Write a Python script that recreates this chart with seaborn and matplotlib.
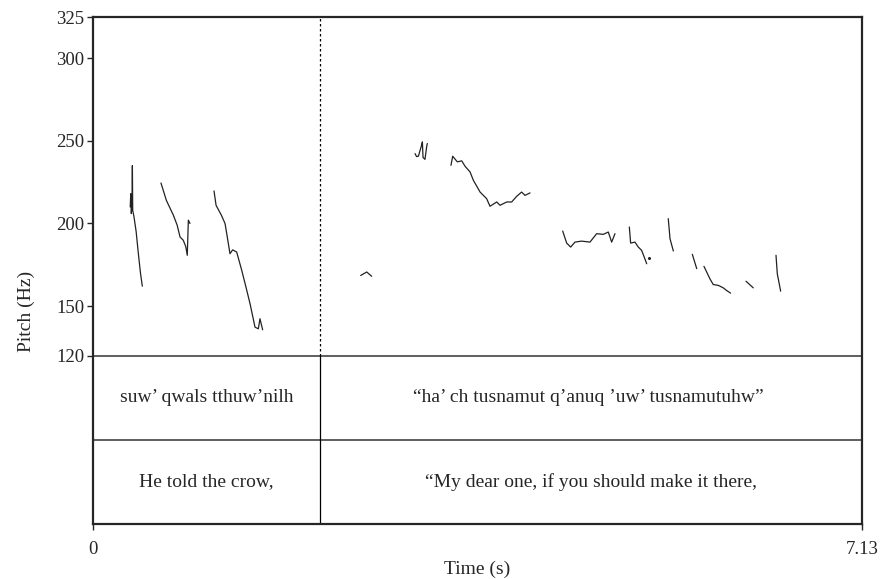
import numpy as np
import pandas as pd
import matplotlib
matplotlib.use("Agg")
import matplotlib.pyplot as plt
import seaborn as sns

sns.set_style("ticks")
plt.rcParams['font.family'] = ['Liberation Serif', 'DejaVu Serif']

# pitch track segments: (time s, pitch Hz)
seg1_t = [0.345, 0.350, 0.355, 0.362, 0.365, 0.368, 0.380, 0.400, 0.420, 0.440, 0.457]
seg1_f = [210, 218, 206, 212, 235, 208, 204, 195, 182, 170, 162]
seg2_t = [0.630, 0.680, 0.745, 0.780, 0.807, 0.837, 0.860, 0.874, 0.884, 0.899]
seg2_f = [224.5, 214, 205, 199, 191.8, 189.8, 186, 180.7, 202, 200]
seg3_t = [1.122, 1.141, 1.190, 1.224, 1.240, 1.270, 1.295, 1.332, 1.379, 1.420, 1.456, 1.502, 1.533, 1.548, 1.573]
seg3_f = [219.7, 211, 205, 200, 193.8, 181.7, 184, 182.7, 171.6, 161, 151.4, 137.2, 136.2, 142.3, 135.6]
seg4_t = [2.482, 2.538, 2.584]
seg4_f = [168.5, 170.6, 168]
seg5_t = [2.986, 3.000, 3.017, 3.045, 3.054, 3.060, 3.078, 3.095, 3.100]
seg5_f = [242.3, 240.5, 240.7, 247, 249.4, 240, 238.8, 247, 248.4]
seg6_t = [3.319, 3.335, 3.378, 3.419, 3.450, 3.496, 3.527, 3.589, 3.650, 3.681, 3.743, 3.774,
          3.836, 3.882, 3.928, 3.974, 4.006, 4.052]
seg6_f = [235.2, 240.7, 237.3, 237.9, 234.6, 231.2, 226.1, 219, 215, 210.4, 213, 211,
          213, 213, 216.4, 219, 217, 218.5]
seg7_t = [4.355, 4.392, 4.429, 4.469, 4.531, 4.608, 4.670, 4.732, 4.778, 4.809, 4.840]
seg7_f = [195.4, 188.1, 185.7, 188.7, 189.3, 188.7, 193.8, 193.4, 194.8, 188.7, 193.8]
seg8_t = [4.973, 4.985, 5.025, 5.056, 5.087, 5.109, 5.134]
seg8_f = [197.8, 188.1, 188.7, 185.7, 183.7, 180, 175.6]
seg9_t = [5.334, 5.350, 5.381]
seg9_f = [202.9, 190.8, 183.3]
seg10_t = [5.557, 5.598]
seg10_f = [181.3, 172.6]
seg11_t = [5.665, 5.690, 5.720, 5.751, 5.798, 5.844, 5.875, 5.912]
seg11_f = [174, 170.6, 166.5, 163, 162.5, 161, 159.4, 157.8]
seg12_t = [6.055, 6.122]
seg12_f = [165, 161]
seg13_t = [6.333, 6.345, 6.376]
seg13_f = [180.7, 169.5, 159]

segments = [(seg1_t, seg1_f), (seg2_t, seg2_f), (seg3_t, seg3_f), (seg4_t, seg4_f),
            (seg5_t, seg5_f), (seg6_t, seg6_f), (seg7_t, seg7_f), (seg8_t, seg8_f),
            (seg9_t, seg9_f), (seg10_t, seg10_f), (seg11_t, seg11_f), (seg12_t, seg12_f),
            (seg13_t, seg13_f)]

stray_t = [5.158]
stray_f = [179.3]

# annotation tiers
boundary = 2.105
tier1_labels = ["suw’ qwals tthuw’nilh", "“ha’ ch tusnamut q’anuq ’uw’ tusnamutuhw”"]
tier1_x = [1.05, 4.59]
tier2_labels = ["He told the crow,", "“My dear one, if you should make it there,"]
tier2_x = [1.05, 4.62]

t_max = 7.13
y_top = 325
tier_top = 120
tier_mid = 69
y_bot = 18

rows = []
for i, (ts, fs) in enumerate(segments):
    for t, f in zip(ts, fs):
        rows.append({"seg": i, "time": t, "pitch": f})
df = pd.DataFrame(rows)

fig = plt.figure(figsize=(8.8, 5.79), dpi=100)
ax = fig.add_axes([0.1057, 0.095, 0.8738, 0.8756])

sns.lineplot(data=df, x="time", y="pitch", units="seg", estimator=None,
             color="#222222", lw=0.9, ax=ax, sort=False)
ax.plot(stray_t, stray_f, marker="o", ms=1.2, color="#222222", lw=0)

ax.set_xlim(0, t_max)
ax.set_ylim(y_bot, y_top)

ax.axhline(tier_top, color="#333333", lw=1.1)
ax.axhline(tier_mid, color="#333333", lw=1.1)
ax.plot([boundary, boundary], [tier_top, y_top], color="black", lw=0.9, ls=(0, (2, 2)))
ax.plot([boundary, boundary], [y_bot, tier_top], color="black", lw=0.9)

for lab, x in zip(tier1_labels, tier1_x):
    ax.text(x, (tier_top + tier_mid) / 2, lab, ha="center", va="center", fontsize=14)
for lab, x in zip(tier2_labels, tier2_x):
    ax.text(x, (tier_mid + y_bot) / 2, lab, ha="center", va="center", fontsize=14)

ax.set_yticks([120, 150, 200, 250, 300, 325])
ax.set_yticklabels(["120", "150", "200", "250", "300", "325"])
ax.set_xticks([0, t_max])
ax.set_xticklabels(["0", "7.13"])
ax.tick_params(axis="both", labelsize=13.5, length=4, width=1, direction="out", pad=2)
ax.tick_params(axis="x", pad=8)
for sp in ax.spines.values():
    sp.set_visible(True)
    sp.set_linewidth(1.6)

ax.set_xlabel("Time (s)", fontsize=14, labelpad=2)
ax.set_ylabel("Pitch (Hz)", fontsize=14)
ax.yaxis.set_label_coords(-0.075, 0.42)

fig.savefig("out.png", dpi=100)
